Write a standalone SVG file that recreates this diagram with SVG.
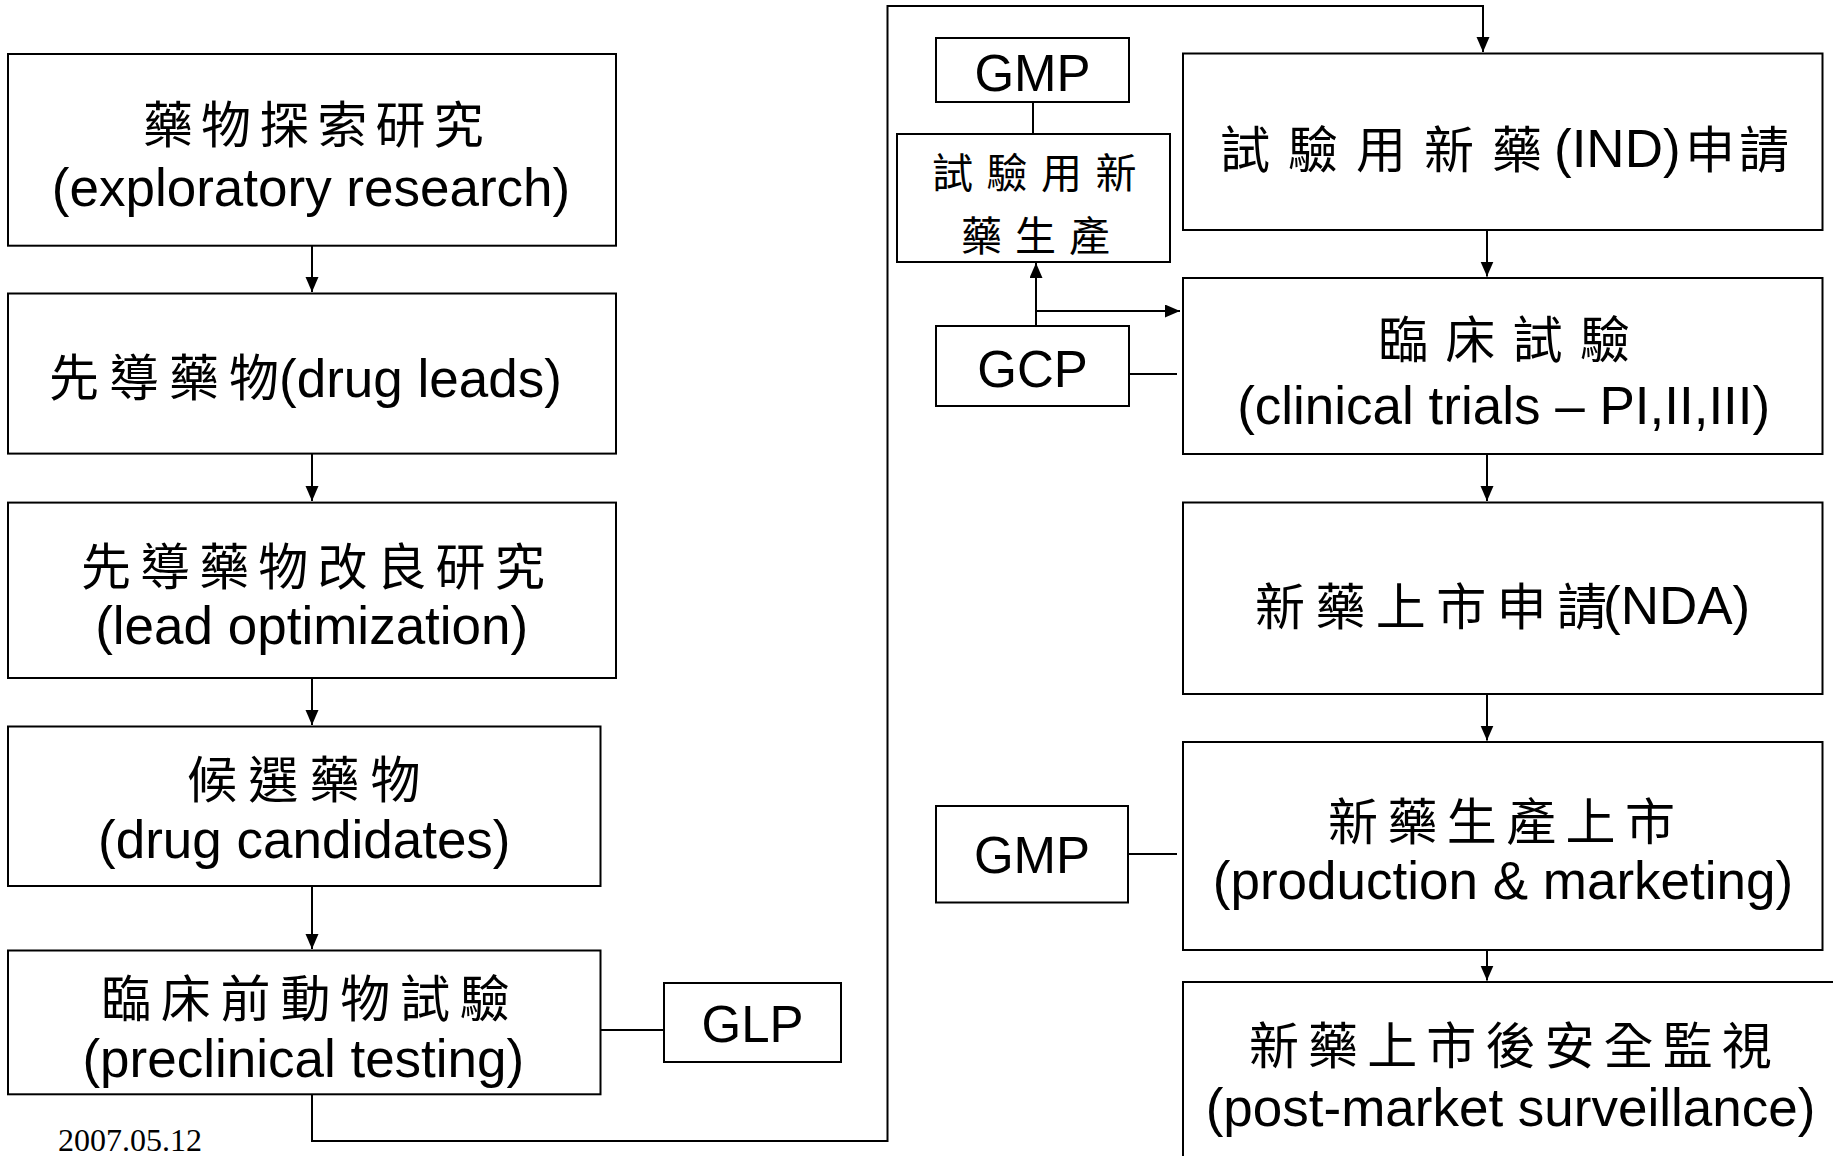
<svg xmlns="http://www.w3.org/2000/svg" width="1833" height="1156" viewBox="0 0 1833 1156">
<style>
.box{fill:#fff;stroke:#000;stroke-width:2}
.ln{fill:none;stroke:#000;stroke-width:2}
.cj{font-family:"Noto Sans CJK TC","Noto Sans CJK SC",sans-serif;font-size:50px;fill:#000}
.cs{font-family:"Noto Sans CJK TC","Noto Sans CJK SC",sans-serif;font-size:41px;fill:#000}
.en{font-family:"Liberation Sans",Arial,sans-serif;font-size:53px;fill:#000}
.ab{font-family:"Liberation Sans",Arial,sans-serif;font-size:51px;fill:#000;text-anchor:middle}
.mid{text-anchor:middle}
</style>
<defs>
<marker id="arr" markerUnits="userSpaceOnUse" markerWidth="16" markerHeight="14" refX="15" refY="6.5" orient="auto">
<path d="M0,0 L15,6.5 L0,13 z" fill="#000"/>
</marker>
</defs>
<rect width="1833" height="1156" fill="#fff"/>
<g id="connectors">
<path class="ln" d="M312,245.7 V292" marker-end="url(#arr)"/>
<path class="ln" d="M312,453.6 V501" marker-end="url(#arr)"/>
<path class="ln" d="M312,678 V725" marker-end="url(#arr)"/>
<path class="ln" d="M312,886 V949" marker-end="url(#arr)"/>
<path class="ln" d="M600.5,1030 H664"/>
<path class="ln" d="M312,1094.3 V1141 H887.5 V6 H1483 V52" marker-end="url(#arr)"/>
<path class="ln" d="M1487,230 V276.5" marker-end="url(#arr)"/>
<path class="ln" d="M1487,454 V501" marker-end="url(#arr)"/>
<path class="ln" d="M1487,694 V740.5" marker-end="url(#arr)"/>
<path class="ln" d="M1487,950 V980.5" marker-end="url(#arr)"/>
<path class="ln" d="M1033,102 V134"/>
<path class="ln" d="M1036,326 V263" marker-end="url(#arr)"/>
<path class="ln" d="M1036,311 H1180" marker-end="url(#arr)"/>
<path class="ln" d="M1129,374 H1177"/>
<path class="ln" d="M1128,854 H1177"/>
</g>
<g id="n1">
<rect class="box" x="8" y="54" width="608" height="191.7"/>
<text class="cj" x="143" y="143" letter-spacing="8.1">藥物探索研究</text>
<text class="en mid" x="311" y="205.7">(exploratory research)</text>
</g>
<g id="n2">
<rect class="box" x="8" y="293.5" width="608" height="160.1"/>
<text class="cj" x="49" y="395.7" letter-spacing="10">先導藥物</text>
<text class="en" x="279" y="396.7">(drug leads)</text>
</g>
<g id="n3">
<rect class="box" x="8" y="502.6" width="608" height="175.4"/>
<text class="cj" x="81" y="584.5" letter-spacing="9.1">先導藥物改良研究</text>
<text class="en mid" x="311.7" y="644">(lead optimization)</text>
</g>
<g id="n4">
<rect class="box" x="8" y="726.5" width="592.5" height="159.5"/>
<text class="cj" x="187" y="798" letter-spacing="11.2">候選藥物</text>
<text class="en mid" x="304.3" y="858">(drug candidates)</text>
</g>
<g id="n5">
<rect class="box" x="8" y="950.5" width="592.5" height="143.8"/>
<text class="cj" x="101" y="1017" letter-spacing="9.8">臨床前動物試驗</text>
<text class="en mid" x="303.3" y="1077">(preclinical testing)</text>
</g>
<g id="glp">
<rect class="box" x="664" y="983" width="177" height="79"/>
<text class="ab" x="752.5" y="1041.5">GLP</text>
</g>
<g id="gmp1">
<rect class="box" x="936" y="38" width="193" height="64"/>
<text class="ab" x="1032.5" y="91">GMP</text>
</g>
<g id="indprod">
<rect class="box" x="897" y="134" width="273" height="128"/>
<text class="cs" x="932" y="187.5" letter-spacing="13.5">試驗用新</text>
<text class="cs" x="961" y="250.5" letter-spacing="13">藥生產</text>
</g>
<g id="gcp">
<rect class="box" x="936" y="326" width="193" height="80"/>
<text class="ab" x="1032.5" y="386.7">GCP</text>
</g>
<g id="gmp2">
<rect class="box" x="936" y="806" width="192" height="96.5"/>
<text class="ab" x="1032" y="872.8">GMP</text>
</g>
<g id="ind">
<rect class="box" x="1183" y="53.5" width="639.5" height="176.5"/>
<text class="cj" x="1220" y="167.5" letter-spacing="18">試驗用新藥</text>
<text class="en" x="1554" y="166.7">(IND)</text>
<text class="cj" x="1685" y="167.5" letter-spacing="4">申請</text>
</g>
<g id="clinical">
<rect class="box" x="1183" y="278" width="639.5" height="176"/>
<text class="cj" x="1378" y="358" letter-spacing="17.3">臨床試驗</text>
<text class="en mid" x="1503.7" y="424">(clinical trials – PI,II,III)</text>
</g>
<g id="nda">
<rect class="box" x="1183" y="502.5" width="639.5" height="191.5"/>
<text class="cj" x="1255" y="625" letter-spacing="10.4">新藥上市申請</text>
<text class="en" x="1603" y="624">(NDA)</text>
</g>
<g id="production">
<rect class="box" x="1183" y="742" width="639.5" height="208"/>
<text class="cj" x="1328" y="839.6" letter-spacing="9.4">新藥生產上市</text>
<text class="en mid" x="1503" y="899.4">(production &amp; marketing)</text>
</g>
<g id="postmarket">
<rect class="box" x="1183" y="982" width="680" height="200"/>
<text class="cj" x="1249" y="1064" letter-spacing="9.1">新藥上市後安全監視</text>
<text class="en mid" x="1510.5" y="1126">(post-market surveillance)</text>
</g>
<text x="58" y="1151" font-family="'Liberation Serif','Times New Roman',serif" font-size="32" fill="#000">2007.05.12</text>
</svg>
